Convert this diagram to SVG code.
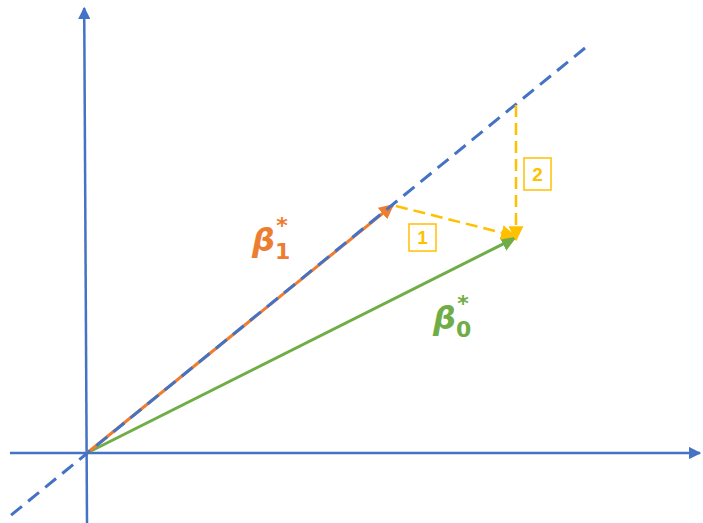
<svg xmlns="http://www.w3.org/2000/svg" width="703" height="523" viewBox="0 0 703 523">
<style>
.axis{stroke:#4472C4;stroke-width:2.5;fill:none}
.blued{stroke:#4472C4;stroke-width:3;fill:none;stroke-dasharray:14 8}
.or{stroke:#ED7D31;stroke-width:3;fill:none}
.gr{stroke:#70AD47;stroke-width:3;fill:none}
.yd{stroke:#FFC000;stroke-width:2.5;fill:none;stroke-dasharray:12 6}
.box{fill:#fff;stroke:#FFC000;stroke-width:1.5}
.bt{font-family:"Liberation Sans",Arial,sans-serif;font-size:19px;font-weight:bold;fill:#FFC000;text-anchor:middle}
.lbl{font-family:"DejaVu Sans","Liberation Sans",sans-serif;font-size:32px;font-style:italic;font-weight:bold}
.sub{font-size:22px;font-style:normal}
</style>
<defs>
<marker id="ab" markerWidth="5" markerHeight="5" refX="4.5" refY="2.5" orient="auto" markerUnits="strokeWidth"><path d="M0,0 L5,2.5 L0,5 Z" fill="#4472C4"/></marker>
<marker id="ao" markerWidth="5" markerHeight="5" refX="4.5" refY="2.5" orient="auto" markerUnits="strokeWidth"><path d="M0,0 L5,2.5 L0,5 Z" fill="#ED7D31"/></marker>
<marker id="ag" markerWidth="5" markerHeight="5" refX="4.5" refY="2.5" orient="auto" markerUnits="strokeWidth"><path d="M0,0 L5,2.5 L0,5 Z" fill="#70AD47"/></marker>
<marker id="ay" markerWidth="6" markerHeight="6" refX="5.5" refY="3" orient="auto" markerUnits="strokeWidth"><path d="M0,0 L6,3 L0,6 Z" fill="#FFC000"/></marker>
</defs>
<g id="connectors">
<line class="axis" x1="87" y1="523" x2="84.2" y2="8" marker-end="url(#ab)"/>
<line class="axis" x1="10" y1="453" x2="700" y2="453" marker-end="url(#ab)"/>
<line class="gr" x1="87" y1="453" x2="515" y2="238" marker-end="url(#ag)"/>
<line class="or" x1="87" y1="453" x2="393" y2="205" marker-end="url(#ao)"/>
<line class="blued" x1="585" y1="48" x2="10" y2="516"/>
<line class="yd" x1="396" y1="206" x2="515" y2="236" marker-end="url(#ay)"/>
<line class="yd" x1="516" y1="105" x2="516" y2="240" marker-end="url(#ay)"/>
</g>
<g id="box1"><rect class="box" x="409" y="224" width="27" height="27"/><text class="bt" x="422.5" y="244">1</text></g>
<g id="box2"><rect class="box" x="524" y="158" width="27" height="32"/><text class="bt" x="537.5" y="181">2</text></g>
<g id="beta1"><text class="lbl" x="252" y="251" fill="#ED7D31">β<tspan class="sub" dy="8">1</tspan><tspan class="sub" dx="-14" dy="-26">*</tspan></text></g>
<g id="beta0"><text class="lbl" x="433" y="329" fill="#70AD47">β<tspan class="sub" dy="8">0</tspan><tspan class="sub" dx="-14" dy="-26">*</tspan></text></g>
</svg>
